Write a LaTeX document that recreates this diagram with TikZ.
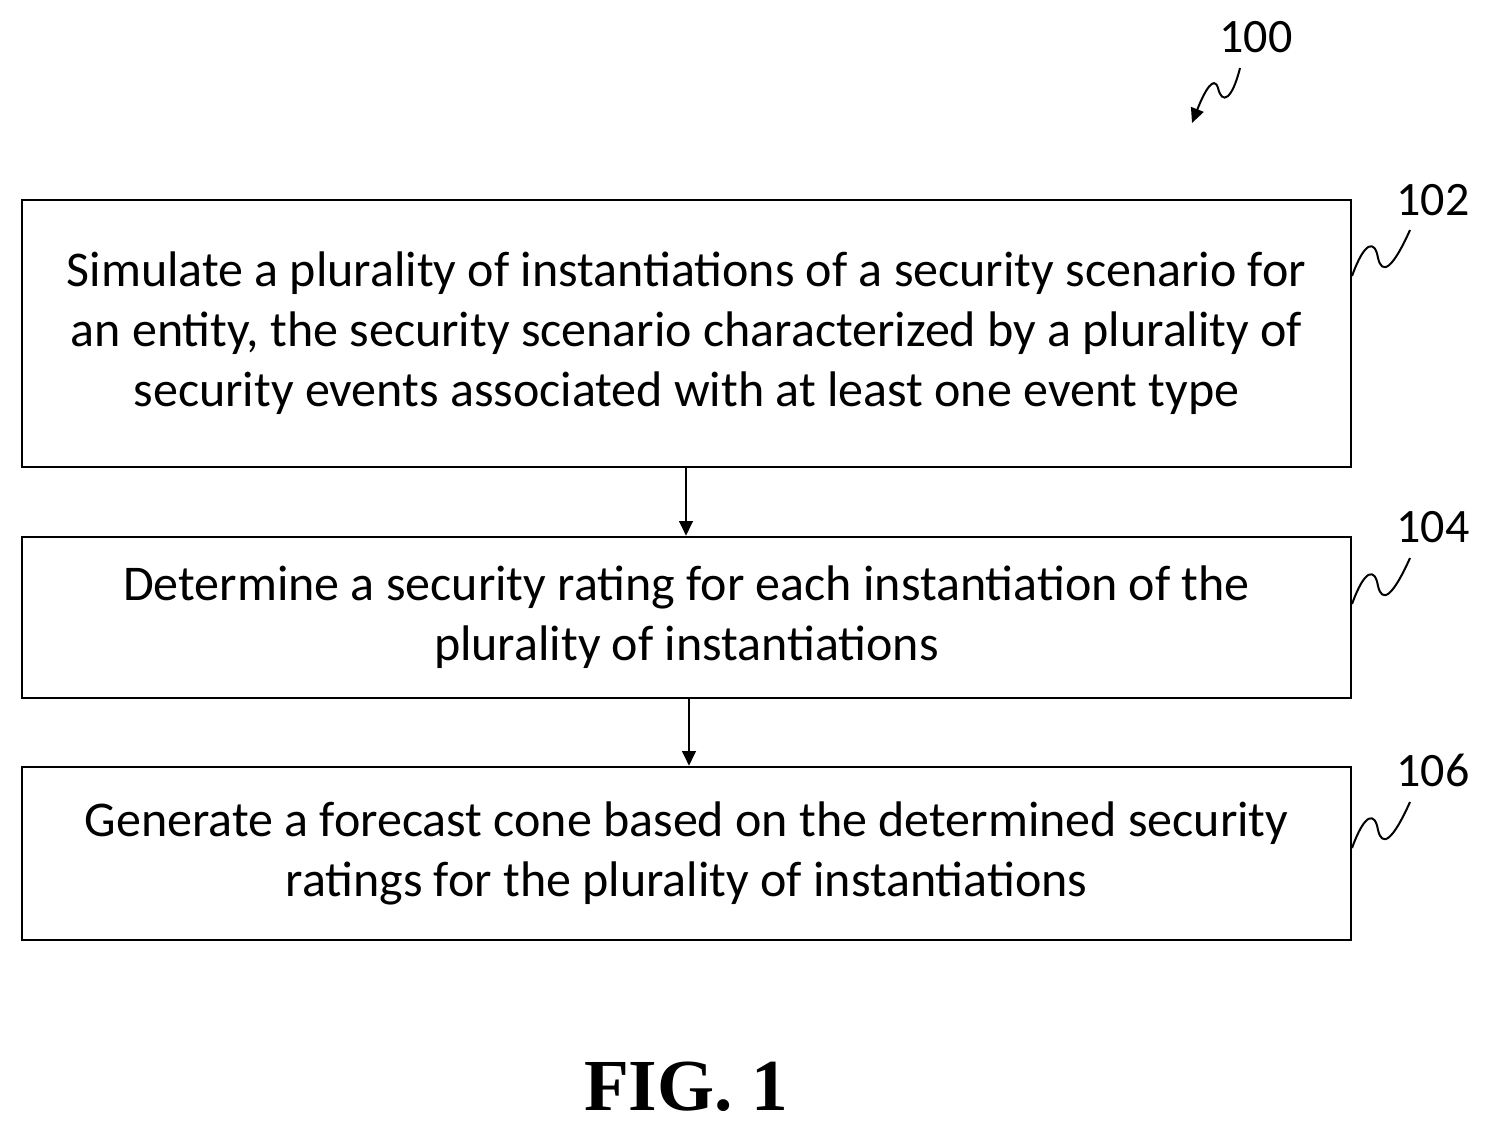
\documentclass[tikz,border=0pt]{standalone}
\usepackage{fontspec}
\setmainfont{Carlito}
\newfontfamily\figfont{Liberation Serif}
\usetikzlibrary{arrows.meta}
\begin{document}
\begin{tikzpicture}[x=0.75pt,y=-0.75pt,
  stepbox/.style={draw,line width=1.8pt,align=center,font=\fontsize{37.5}{45}\selectfont,inner sep=0pt},
  lbl/.style={font=\fontsize{36}{40}\selectfont},
  squig/.style={line width=1.5pt},
  conn/.style={line width=2pt,-{Triangle[length=11pt,width=10pt]}}]
\useasboundingbox (0,0) rectangle (1491,1133);
\node[stepbox,minimum width=1329*0.75pt,minimum height=267*0.75pt] (b1) at (686.5,333.5) {Simulate a plurality of instantiations of a security scenario for\\an entity, the security scenario characterized by a plurality of\\security events associated with at least one event type};
\node[stepbox,minimum width=1329*0.75pt,minimum height=161*0.75pt] (b2) at (686.5,617.5) {Determine a security rating for each instantiation of the\\plurality of instantiations};
\node[stepbox,minimum width=1329*0.75pt,minimum height=173*0.75pt] (b3) at (686.5,853.5) {Generate a forecast cone based on the determined security\\ratings for the plurality of instantiations};
\draw[conn] (b1.south -| 686,0) -- (b2.north -| 686,0);
\draw[conn] (b2.south -| 689,0) -- (b3.north -| 689,0);
\node[lbl] (l102) at (1433,200) {102};
\node[lbl] (l104) at (1433,527) {104};
\node[lbl] (l106) at (1433,770) {106};
\node[lbl] (l100) at (1256,37) {100};
\coordinate (s1) at (1352,276);
\draw[squig] (s1) .. controls (1365,240) and (1375,240) .. (1378,258) .. controls (1382,275) and (1392,270) .. (1410,230);
\coordinate (s2) at (1352,604);
\draw[squig] (s2) .. controls (1365,568) and (1375,568) .. (1378,586) .. controls (1382,603) and (1392,598) .. (1410,558);
\coordinate (s3) at (1352,848);
\draw[squig] (s3) .. controls (1365,812) and (1375,812) .. (1378,830) .. controls (1382,847) and (1392,842) .. (1410,802);
\coordinate (a0) at (1240,68);
\coordinate (a1) at (1192,123);
\draw[squig,-{Triangle[length=11pt,width=10pt]}] (a0) .. controls (1232,100) and (1222,105) .. (1218,88) .. controls (1214,75) and (1205,90) .. (a1);
\node[font=\figfont\bfseries\fontsize{55}{62}\selectfont] (fig) at (686,1087) {FIG. 1};
\end{tikzpicture}
\end{document}
